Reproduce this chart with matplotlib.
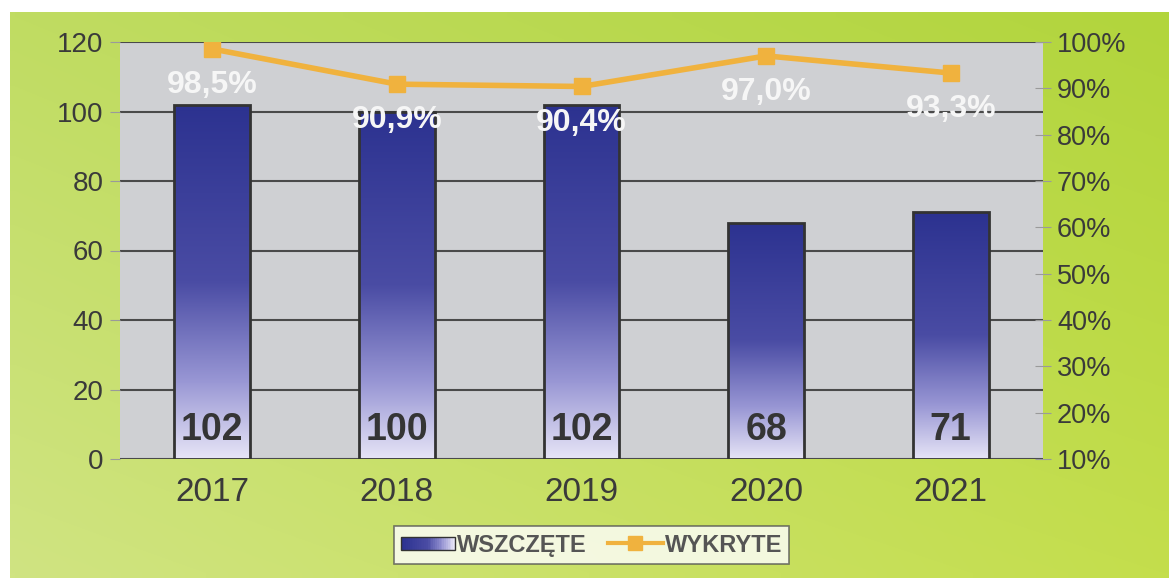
import numpy as np
from matplotlib import pyplot as plt
from matplotlib.colors import LinearSegmentedColormap, to_rgb
from matplotlib.legend_handler import HandlerBase
from matplotlib.lines import Line2D
from matplotlib.patches import Rectangle
from matplotlib.ticker import FuncFormatter, MultipleLocator

# Data.
years = ['2017', '2018', '2019', '2020', '2021']
wszczete = [102, 100, 102, 68, 71]
wykryte = [98.5, 90.9, 90.4, 97.0, 93.3]
seriesNames = ['WSZCZĘTE', 'WYKRYTE']

# Styles.
textColor = '#3a3a3a'
lineColor = '#f0b23e'
plotBg = '#cfd0d3'
gridColor = '#4a4a4a'
barCmap = LinearSegmentedColormap.from_list(
  'bar', [(0.0, '#e6e4f6'), (0.22, '#9896d4'), (0.5, '#4a4ca4'), (1.0, '#2c3290')])

plt.rcParams['font.family'] = ['Liberation Sans', 'DejaVu Sans']


class GradientHandler(HandlerBase):
  # Legend handle drawn as a horizontal gradient box.
  def create_artists(self, legend, orig, xdescent, ydescent, width, height, fontsize, trans):
    artists = []
    n = 30
    h = height * 0.8
    y0 = -ydescent + (height - h) / 2
    for i in range(n):
      c = barCmap(1 - i / (n - 1))
      artists.append(Rectangle((-xdescent + width * i / n, y0), width / n + 0.3, h,
                               facecolor=c, edgecolor='none', transform=trans))
    artists.append(Rectangle((-xdescent, y0), width, h, facecolor='none',
                             edgecolor='#333333', lw=1.0, transform=trans))
    return artists


def generatePlot():
  fig = plt.figure(figsize=(11.69, 5.78), dpi=100, facecolor='white')

  # Green gradient background (white scan margin on top and left).
  bgAx = fig.add_axes([10 / 1169, 0, 1 - 10 / 1169, 1 - 12 / 578])
  bgAx.set_zorder(-5)
  tl, tr = np.array(to_rgb('#c0dc62')), np.array(to_rgb('#b2d53c'))
  bl, br = np.array(to_rgb('#d0e482')), np.array(to_rgb('#c4de4c'))
  ys = np.linspace(0, 1, 60)[:, None, None]
  xs = np.linspace(0, 1, 120)[None, :, None]
  grad = (1 - ys) * ((1 - xs) * tl + xs * tr) + ys * ((1 - xs) * bl + xs * br)
  bgAx.imshow(grad, aspect='auto', interpolation='bilinear', extent=[0, 1, 0, 1], origin='upper')
  bgAx.axis('off')

  ax = fig.add_axes([120 / 1169, 119 / 578, 923 / 1169, 417 / 578])
  ax.set_facecolor(plotBg)
  x = np.arange(len(years))

  bars = ax.bar(x, wszczete, width=0.41, facecolor='none', edgecolor='#333333',
                linewidth=2, zorder=3)
  grad1 = np.linspace(1, 0, 256)[:, None]
  for p in bars:
    bx, bw, bh = p.get_x(), p.get_width(), p.get_height()
    im = ax.imshow(grad1, cmap=barCmap, vmin=0, vmax=1, aspect='auto',
                   extent=[bx, bx + bw, 0, bh], zorder=2, interpolation='bilinear')
    im.set_clip_path(p)

  for xi, v in zip(x, wszczete):
    ax.annotate(str(v), (xi, 0), xytext=(0, 21), textcoords='offset points',
                ha='center', va='center', fontsize=27, fontweight='bold', color='#353535',
                zorder=5)

  ax.set_xlim(-0.5, len(years) - 0.5)
  ax.set_ylim(0, 120)
  ax.yaxis.set_major_locator(MultipleLocator(20))
  ax.set_xticks(x, years)
  ax.yaxis.grid(True, color=gridColor, linewidth=1.5, zorder=1)
  ax.set_axisbelow(True)
  ax.get_ygridlines()[0].set_visible(False)
  for s in ax.spines.values():
    s.set_visible(False)
  ax.tick_params(axis='x', length=0, pad=13, labelsize=24, labelcolor=textColor)
  ax.tick_params(axis='y', length=7, color='#9a9a9a', pad=5, labelsize=20, labelcolor=textColor)

  # Secondary axis with detection rate.
  ax2 = ax.twinx()
  ax2.plot(x, wykryte, color=lineColor, lw=4, marker='s', markersize=12, zorder=4)
  for xi, v in zip(x, wykryte):
    ax2.annotate(f'{v:.1f}%'.replace('.', ','), (xi, v), xytext=(0, -26),
                 textcoords='offset points', ha='center', va='center', fontsize=23,
                 fontweight='bold', color='#f6f6f6', zorder=5)
  ax2.set_ylim(10, 100)
  ax2.yaxis.set_major_locator(MultipleLocator(10))
  ax2.yaxis.set_major_formatter(FuncFormatter(lambda v, _: f'{v:.0f}%'))
  for s in ax2.spines.values():
    s.set_visible(False)
  ax2.tick_params(axis='y', direction='inout', length=12, color='#9a9a9a', pad=4,
                  labelsize=19.5, labelcolor=textColor)

  # Legend.
  handles = [Rectangle((0, 0), 1, 1),
             Line2D([], [], color=lineColor, lw=3, marker='s', markersize=10)]
  leg = fig.legend(handles, seriesNames, loc='center', bbox_to_anchor=(0.506, 0.057),
                   ncol=2, frameon=True, fancybox=False, handlelength=2.3,
                   handler_map={Rectangle: GradientHandler()},
                   prop={'size': 17, 'weight': 'bold'}, borderpad=0.3,
                   columnspacing=0.9, handletextpad=0.1)
  leg.get_frame().set_edgecolor('#555555')
  leg.get_frame().set_linewidth(1.2)
  for t in leg.get_texts():
    t.set_color('#555555')

  fig.savefig('out.png', dpi=100, facecolor='white')


if __name__ == '__main__':
  generatePlot()
